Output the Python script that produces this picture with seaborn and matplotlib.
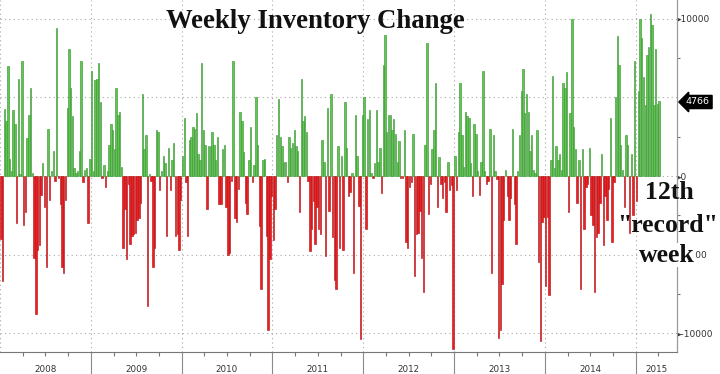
import numpy as np
import pandas as pd
import matplotlib
matplotlib.use("Agg")
import matplotlib.pyplot as plt
import matplotlib.transforms as mtransforms
import matplotlib.colors as mcolors
import seaborn as sns

# ---- data: weekly inventory change (one value per week) ----
years = ["2008", "2009", "2010", "2011", "2012", "2013", "2014", "2015"]

v2008 = [-4000, -6700, 4250, 3500, 7000, 1100, 300, 4200, 3300, -3000,
         6200, 100, 7300, -3100, -2300, 2400, 3900, 5600, 200, -5200,
         -8800, -4700, -4400, -1200, 800, -2000, -5800, 3000, -1500, 300,
         1600, -300, 9400, -100, -1800, -5800, -6200, -1500, 4300, 8100,
         5600, 3800, 500, 200, 300, 1600, 7300, -400, 400, 500,
         -3000, 1100]
v2009 = [6700, 300, 6100, 6200, 7200, 4700, -100, 700, -700, 300,
         2000, 3300, 2900, 1700, 5600, 3900, 4100, 600, -4600, -2100,
         -5300, -500, -4300, -3800, -3700, -3600, -2800, -2700, -1700, 5200,
         1700, 2600, -8300, 100, -300, -5800, -4600, 2900, 2800, -900,
         300, 1300, 800, -3800, 1800, -900, 1000, 2100, -3800, -3700,
         -4700, -1500]
v2010 = [1300, 3700, -400, -3800, 2300, 2500, 3100, 3000, 4000, 1400,
         1000, 7200, 2900, 2000, -2100, 1900, 1900, 2800, 2000, 1000,
         2500, -1800, -1800, 1700, 2000, -2000, -5000, -4900, -300, 7300,
         -2700, -2900, -800, 4100, 3500, 1500, -1700, -2400, 1000, 3100,
         -400, 700, 5000, 2000, -3200, -7200, 1000, 1100, -3800, -9800,
         -5300, -1300]
v2011 = [-4100, -2100, 2600, 4900, 2500, 1900, 900, 900, -400, 2500,
         1800, 2100, 2900, 1900, 1600, -2300, 6200, 3500, 3800, 2800,
         -300, -4800, -3400, -1600, -4300, -2000, -3400, -3700, 2300, 900,
         -5100, 4300, -2200, 5200, -3900, -6600, -7200, 1900, -4600, 1300,
         -4700, 4700, 1800, -1300, -1000, 200, -6200, 3900, 1300, -1900,
         -10400, 3900]
v2012 = [5000, -3400, 3600, 4200, 200, -100, 800, 4200, 900, 1800,
         -1100, 7100, 9000, 2800, 3900, 3900, 2900, 3600, 2700, 900,
         2200, -100, -100, 2900, -4200, -4600, -700, -400, 2700, -6400,
         -3700, -3600, -2200, -5200, -7400, 2000, 8500, -2400, -500, 1700,
         2900, 5900, -2000, 1200, -500, -1400, -400, -2300, 900, -900,
         -600, -11000]
v2013 = [1300, -900, 2800, 5900, 2600, 600, 4100, 3800, 3700, 800,
         -1300, 3300, 2700, 300, -1200, 900, 6700, 300, -500, -300,
         3000, -6200, 2600, 300, -200, -10300, -9800, -6900, -2800, 400,
         -1300, -2800, -1400, 3000, -1800, -4300, 300, 2600, 5400, 6800,
         4000, 5200, 4100, 1600, 2600, 400, 200, 2900, -5500, -10500,
         -2900, -2600]
v2014 = [-7000, -2600, -7600, 1000, 6400, 500, 1900, 1000, 1400, 400,
         5900, 5600, 6600, -2300, 4000, 10000, 3100, 1700, -1700, 1000,
         -7200, 1700, -3400, -700, -500, 1800, -2500, -3100, -7400, -3900,
         -3600, -1700, 1400, -4400, -1300, -2800, -800, 3700, -4200, -400,
         5000, 8900, 7100, 2000, 400, -2000, 2600, 2000, -3600, 1400,
         -2500, 7300]
v2015 = [-1600, 5400, 10000, 8800, 6300, 4500, 7700, 8200, 10300, 9600,
         4500, 8100, 4600, 4766]

y_ticks = [-10000, -5000, 0, 5000, 10000]
y_tick_labels = ["-10000", "-5000", "0", "", "10000"]
last_label = "4766"
title = "Weekly Inventory Change"
note_lines = ["12th", "\"record\"", "week"]

GREEN = "#62c350"
GREEN_EDGE = "#3c9c38"
RED = "#ee1f20"
RED_EDGE = "#b8161b"

values = v2008 + v2009 + v2010 + v2011 + v2012 + v2013 + v2014 + v2015
df = pd.DataFrame({"week": np.arange(len(values)), "change": values})
df["sign"] = np.where(df["change"] >= 0, "up", "down")

sns.set_theme(style="white")
plt.rcParams["font.family"] = ["DejaVu Sans"]

W, H = 720, 374
fig = plt.figure(figsize=(W / 100, H / 100), dpi=100)
ax_bottom_px = 352
ax_right_px = 677
ax = fig.add_axes([0, 1 - ax_bottom_px / H, ax_right_px / W, ax_bottom_px / H])

sns.barplot(data=df, x="week", y="change", hue="sign",
            palette={"up": GREEN, "down": RED}, native_scale=True,
            saturation=1, width=0.82, linewidth=0.45, legend=False,
            errorbar=None, ax=ax)

for p in ax.patches:
    r, g, b = mcolors.to_rgb(p.get_facecolor())
    p.set_edgecolor(GREEN_EDGE if g > r else RED_EDGE)
    p.set_zorder(2)

ax.set_xlim(-0.5, 387.2)
ax.set_ylim(-11210, 11210)
ax.set_xlabel("")
ax.set_ylabel("")

# grid
grid_kw = dict(color="#a8a8a8", lw=0.8, ls=(0, (1, 3)), zorder=0)
for yv in y_ticks:
    ax.axhline(yv, **grid_kw)
for k in range(len(years)):
    ax.axvline(52 * k - 0.5, **grid_kw)

# right axis
ax.yaxis.tick_right()
ax.set_yticks(y_ticks)
ax.set_yticklabels([("\u25b8" + t) if t else "" for t in y_tick_labels])
ax.tick_params(axis="y", which="major", length=0, pad=0, labelsize=6.5,
               labelcolor="#333333")
ax.set_yticks([-7500, -2500, 2500, 7500], minor=True)
ax.tick_params(axis="y", which="minor", length=2.5, width=0.8,
               color="#777777", right=True, left=False)

for s in ["left", "top"]:
    ax.spines[s].set_visible(False)
ax.spines["right"].set_color("#9a9a9a")
ax.spines["bottom"].set_color("#777777")
ax.spines["right"].set_linewidth(0.9)
ax.spines["bottom"].set_linewidth(0.8)

# bottom: quarter ticks, year separators, year labels
ax.set_xticks([])
q_ticks = [52 * k + 13 * j - 0.5 for k in range(len(years)) for j in (1, 2, 3)
           if 52 * k + 13 * j - 0.5 < 387]
ax.set_xticks(q_ticks, minor=True)
ax.tick_params(axis="x", which="minor", length=3, width=0.8, color="#777777",
               bottom=True, direction="out")
trans = mtransforms.blended_transform_factory(ax.transData, ax.transAxes)
for k in range(1, len(years)):
    bnd = 52 * k - 0.5
    ax.plot([bnd, bnd], [0, -0.07], transform=trans, clip_on=False,
            color="#8a8a8a", lw=0.8)
for k, yr in enumerate(years):
    start = 52 * k - 0.5
    end = min(52 * (k + 1) - 0.5, 387.2)
    ax.text((start + end) / 2, -0.049, yr, transform=trans, ha="center",
            va="center", fontsize=6.3, color="#333333")

# title and notes
serif = ["Liberation Serif", "DejaVu Serif"]
fig.text(315 / W, 1 - 22 / H, title, ha="center", va="center",
         family=serif, weight="bold", fontsize=19.3, color="#111111")
fig.text(669 / W, 1 - 193 / H, note_lines[0], ha="center", va="center",
         family=serif, weight="bold", fontsize=18.5, color="#111111")
fig.text(668 / W, 1 - 225 / H, note_lines[1], ha="center", va="center",
         family=serif, weight="bold", fontsize=18.5, color="#111111")
fig.text(667 / W, 1 - 255 / H, note_lines[2], ha="center", va="center",
         family=serif, weight="bold", fontsize=18.5, color="#111111",
         bbox=dict(boxstyle="square,pad=0.02", fc="white", ec="none"))

# last value tag
fig.text(686 / W, 1 - 102 / H, last_label, ha="left", va="center",
         fontsize=6.8, color="white",
         bbox=dict(boxstyle="larrow,pad=0.22", fc="black", ec="black"))

fig.savefig("out.png", dpi=100, facecolor="white")
